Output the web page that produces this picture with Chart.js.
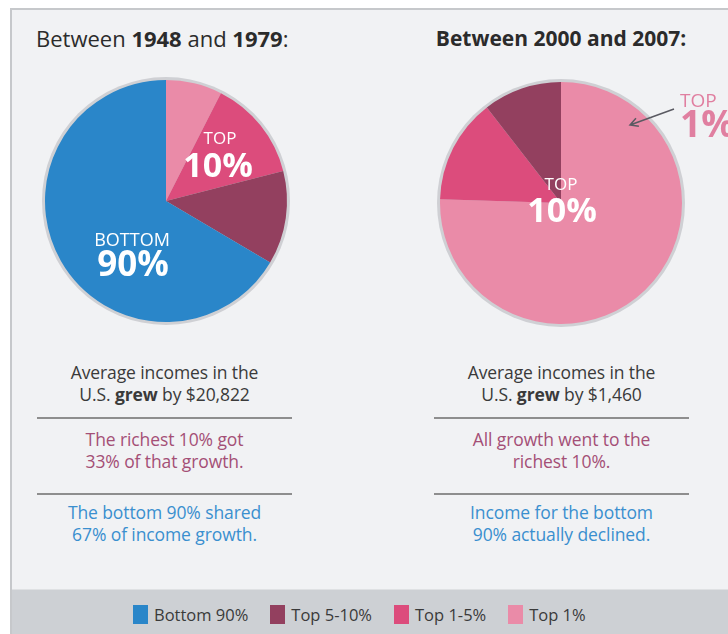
<!DOCTYPE html>
<html>
<head>
<meta charset="utf-8">
<script src="https://cdn.jsdelivr.net/npm/chart.js@4.4.1/dist/chart.umd.min.js"></script>
<style>
  body { margin: 0; width: 728px; height: 634px; overflow: hidden; background: #fff; font-family: 'Open Sans', sans-serif; position: relative; }
  #panel { position: absolute; left: 10px; top: 8px; width: 716px; height: 624px; background: #f1f2f4; border-left: 2px solid #c6c8cb; border-top: 2px solid #c6c8cb; }
  #band { position: absolute; left: 12px; top: 589px; width: 716px; height: 45px; background: #cdd0d4; border-top: 1px solid #dfe1e3; }
  .title { position: absolute; top: 23px; color: #2b2b2b; white-space: nowrap; line-height: 30px; }
  #t1 { left: 36px; font-size: 22px; }
  #t2 { left: 421px; width: 280px; text-align: center; font-size: 21px; }
  canvas { position: absolute; }
  #pie1 { left: 36px; top: 70px; }
  #pie2 { left: 394px; top: 72px; }
  .notes { position: absolute; top: 361px; width: 255px; text-align: center; font-size: 17.5px; line-height: 22px; letter-spacing: -0.1px; }
  #n1 { left: 37px; }
  #n2 { left: 434px; }
  .notes p { margin: 0; white-space: nowrap; }
  .dark { color: #3a3a3a; height: 56px; }
  .pink { color: #a44f76; height: 65px; padding-top: 9px; }
  .blue { color: #3a8fcf; padding-top: 6px; }
  .rule { height: 2px; background: #8e8e8e; }
  #legend { position: absolute; left: 121px; top: 13px; display: flex; align-items: center; font-size: 16.5px; color: #3a3a3a; white-space: nowrap; }
  .item { display: flex; align-items: center; margin-right: 22px; }
  .box { width: 15px; height: 19px; margin-right: 6px; }
</style>
</head>
<body>
<div id="panel"></div>
<div class="title" id="t1">Between <b>1948</b> and <b>1979</b>:</div>
<div class="title" id="t2"><b>Between 2000 and 2007:</b></div>
<canvas id="pie1" width="260" height="262"></canvas>
<canvas id="pie2" width="334" height="262"></canvas>
<div class="notes" id="n1">
  <p class="dark">Average incomes in the<br>U.S. <b>grew</b> by $20,822</p>
  <div class="rule"></div>
  <p class="pink">The richest 10% got<br>33% of that growth.</p>
  <div class="rule"></div>
  <p class="blue">The bottom 90% shared<br>67% of income growth.</p>
</div>
<div class="notes" id="n2">
  <p class="dark">Average incomes in the<br>U.S. <b>grew</b> by $1,460</p>
  <div class="rule"></div>
  <p class="pink">All growth went to the<br>richest 10%.</p>
  <div class="rule"></div>
  <p class="blue">Income for the bottom<br>90% actually declined.</p>
</div>
<div id="band"><div id="legend"></div></div>
<script>
// slices clockwise from 12 o'clock
var labels = ['Top 1%', 'Top 1-5%', 'Top 5-10%', 'Bottom 90%'];
var colors = ['#ea8ba8', '#dc4c7c', '#93405f', '#2a86c9'];
// share of income growth (%)
var share1948 = [7.5, 13.5, 12.5, 66.5];
var share2000 = [75.5, 14, 10.5, 0];

// grey rim behind the pie
var rimPlugin = {
  id: 'rim',
  beforeDatasetsDraw: function(chart) {
    var arc = chart.getDatasetMeta(0).data[0];
    var ctx = chart.ctx;
    ctx.save();
    ctx.beginPath();
    ctx.arc(arc.x, arc.y, arc.outerRadius + 3, 0, Math.PI * 2);
    ctx.fillStyle = '#cfd0d4';
    ctx.fill();
    ctx.restore();
  }
};

// text and arrow placed relative to the pie centre
var pieText = {
  id: 'pieText',
  afterDatasetsDraw: function(chart, args, opts) {
    var arc = chart.getDatasetMeta(0).data[0];
    var ctx = chart.ctx;
    ctx.save();
    (opts.items || []).forEach(function(it) {
      if (it.arrow) {
        var x1 = arc.x + it.arrow[0], y1 = arc.y + it.arrow[1];
        var x2 = arc.x + it.arrow[2], y2 = arc.y + it.arrow[3];
        var a = Math.atan2(y2 - y1, x2 - x1);
        ctx.strokeStyle = '#5a5a62';
        ctx.lineWidth = 1.5;
        ctx.beginPath();
        ctx.moveTo(x1, y1);
        ctx.lineTo(x2, y2);
        ctx.moveTo(x2 + 9 * Math.cos(a + Math.PI - 0.5), y2 + 9 * Math.sin(a + Math.PI - 0.5));
        ctx.lineTo(x2, y2);
        ctx.lineTo(x2 + 9 * Math.cos(a + Math.PI + 0.5), y2 + 9 * Math.sin(a + Math.PI + 0.5));
        ctx.stroke();
        return;
      }
      ctx.font = it.font + " 'Open Sans', sans-serif";
      ctx.fillStyle = it.color || '#ffffff';
      ctx.textAlign = it.align || 'center';
      ctx.textBaseline = 'middle';
      ctx.fillText(it.text, arc.x + it.dx, arc.y + it.dy);
    });
    ctx.restore();
  }
};

function makePie(id, values, items) {
  return new Chart(document.getElementById(id), {
    type: 'pie',
    data: {
      labels: labels,
      datasets: [{ data: values, backgroundColor: colors, borderWidth: 0, radius: 121 }]
    },
    options: {
      responsive: false,
      animation: false,
      layout: { padding: 0 },
      plugins: {
        legend: { display: false },
        tooltip: { enabled: false },
        pieText: { items: items }
      }
    },
    plugins: [rimPlugin, pieText]
  });
}

makePie('pie1', share1948, [
  { text: 'TOP', font: '17px', dx: 54, dy: -62 },
  { text: '10%', font: 'bold 34px', dx: 52, dy: -34 },
  { text: 'BOTTOM', font: '18px', dx: -34, dy: 40 },
  { text: '90%', font: 'bold 35px', dx: -33, dy: 65 }
]);

makePie('pie2', share2000, [
  { text: 'TOP', font: '17px', dx: 0, dy: -18 },
  { text: '10%', font: 'bold 34px', dx: 1, dy: 9 },
  { arrow: [113, -94, 69, -78] },
  { text: 'TOP', font: '19px', dx: 119, dy: -101, align: 'left', color: '#e07fa0' },
  { text: '1%', font: 'bold 37px', dx: 119, dy: -77, align: 'left', color: '#e07fa0' }
]);

// legend reads bottom group first
var legend = document.getElementById('legend');
for (var i = labels.length - 1; i >= 0; i--) {
  var item = document.createElement('div');
  item.className = 'item';
  item.innerHTML = '<span class="box" style="background:' + colors[i] + '"></span>' + labels[i];
  legend.appendChild(item);
}
</script>
</body>
</html>
